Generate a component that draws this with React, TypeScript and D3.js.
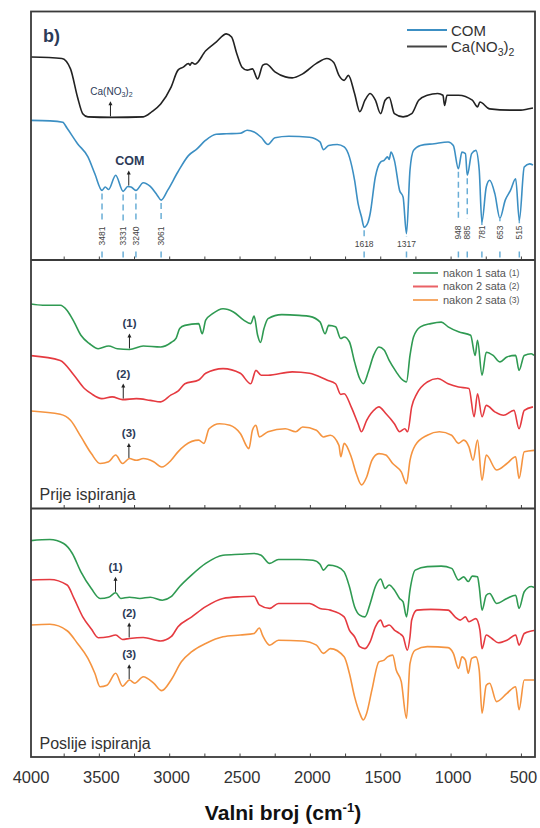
import React from 'react';
import * as d3 from 'd3';

type Pt = [number, number];

// Wavenumber (cm-1) vs. relative transmittance (%) within each panel
const caNitrate: Pt[] = [
  [4000, 81.7], [3766, 81.1], [3705, 76.9], [3655, 65.5], [3618, 58.9], [3581, 57.6], [3409, 57.4], [3188, 57.6],
  [3126, 59.7], [3064, 62.8], [2990, 69.6], [2941, 76.4], [2904, 77.6], [2867, 79.1], [2855, 78.4], [2843, 79.5],
  [2820, 78.8], [2744, 84.2], [2670, 87.7], [2597, 91.0], [2560, 89.7], [2523, 83.0], [2486, 77.6], [2449, 76.4],
  [2412, 76.9], [2375, 72.9], [2338, 78.4], [2314, 78.9], [2252, 75.7], [2178, 73.7], [2129, 73.3], [2055, 74.9],
  [1957, 79.1], [1883, 81.1], [1834, 79.5], [1797, 74.3], [1760, 72.3], [1730, 74.3], [1686, 67.0], [1649, 59.7],
  [1612, 64.3], [1575, 67.0], [1538, 64.3], [1501, 58.9], [1469, 64.3], [1440, 65.5], [1403, 58.9], [1341, 57.6],
  [1280, 58.9], [1230, 64.3], [1169, 66.3], [1095, 67.0], [1058, 66.3], [1046, 62.2], [1029, 66.3], [947, 66.3],
  [849, 64.3], [812, 61.6], [795, 63.6], [726, 60.8], [578, 60.3], [504, 60.3], [455, 60.8], [418, 61.2],
];

const com: Pt[] = [
  [4000, 56.2], [3850, 56.0], [3760, 55.4], [3729, 53.0], [3655, 46.8], [3581, 41.5], [3532, 34.7], [3481, 28.0],
  [3458, 29.4], [3434, 28.4], [3384, 34.1], [3331, 27.6], [3298, 29.6], [3275, 29.4], [3240, 28.0], [3188, 31.1],
  [3138, 29.6], [3089, 26.1], [3061, 24.1], [3015, 28.0], [2941, 35.5], [2867, 42.0], [2806, 44.7], [2744, 48.2],
  [2670, 50.6], [2597, 50.8], [2498, 51.0], [2449, 52.2], [2400, 51.5], [2350, 49.4], [2301, 46.5], [2252, 49.2],
  [2153, 49.8], [2006, 49.4], [1932, 47.5], [1907, 44.4], [1870, 46.1], [1809, 46.5], [1760, 45.5], [1723, 41.5],
  [1686, 32.1], [1661, 22.7], [1637, 17.4], [1618, 13.2], [1590, 15.2], [1575, 18.7], [1538, 33.5], [1501, 39.4],
  [1476, 40.1], [1452, 41.5], [1440, 40.5], [1427, 43.4], [1403, 40.1], [1366, 28.0], [1341, 25.3], [1317, 10.6],
  [1292, 36.2], [1267, 44.1], [1218, 46.1], [1120, 46.8], [1021, 47.5], [984, 46.1], [948, 36.7], [923, 43.4],
  [898, 42.8], [885, 34.1], [854, 42.8], [824, 44.1], [800, 36.2], [781, 15.3], [750, 29.4], [726, 32.1],
  [689, 26.7], [653, 16.8], [615, 24.1], [578, 28.0], [541, 32.7], [515, 16.0], [480, 37.4], [442, 38.7], [418, 38.2],
];

const before1h: Pt[] = [
  [4000, 82.4], [3902, 81.8], [3778, 81.8], [3729, 79.7], [3680, 75.1], [3631, 69.7], [3569, 66.3], [3508, 64.3],
  [3434, 65.4], [3372, 64.3], [3286, 64.0], [3188, 65.4], [3064, 65.0], [2990, 66.8], [2954, 68.6], [2929, 72.4],
  [2892, 73.7], [2794, 74.4], [2769, 70.3], [2744, 75.8], [2695, 78.4], [2621, 80.4], [2547, 79.1], [2474, 75.8],
  [2424, 74.4], [2400, 77.4], [2375, 69.7], [2355, 66.8], [2330, 72.4], [2301, 76.4], [2203, 78.0], [2080, 77.7],
  [2006, 77.3], [1932, 75.1], [1895, 70.3], [1870, 73.7], [1821, 73.1], [1784, 68.4], [1760, 69.0], [1723, 67.1],
  [1686, 59.0], [1649, 52.2], [1624, 50.2], [1588, 55.0], [1551, 61.6], [1513, 65.0], [1476, 63.8], [1440, 59.6],
  [1390, 55.0], [1354, 52.2], [1317, 50.9], [1292, 61.6], [1267, 69.0], [1218, 73.1], [1144, 74.4], [1070, 75.0],
  [1021, 73.1], [947, 71.1], [861, 69.7], [829, 61.6], [812, 67.7], [780, 53.6], [750, 62.9], [701, 61.6],
  [652, 59.0], [603, 61.0], [541, 61.6], [517, 55.6], [480, 61.6], [430, 62.3], [410, 61.6],
];

const before2h: Pt[] = [
  [4000, 61.6], [3778, 59.6], [3680, 53.6], [3606, 48.3], [3557, 46.2], [3483, 44.2], [3409, 44.9], [3335, 43.8],
  [3237, 44.2], [3138, 43.5], [3064, 42.9], [2990, 45.7], [2941, 47.2], [2892, 50.2], [2794, 51.7], [2744, 54.4],
  [2621, 56.3], [2498, 54.4], [2424, 50.2], [2387, 55.6], [2350, 53.6], [2301, 53.6], [2129, 55.0], [2006, 54.4],
  [1883, 51.7], [1821, 50.2], [1784, 45.9], [1760, 46.2], [1710, 40.9], [1661, 34.1], [1637, 30.9], [1600, 35.5],
  [1538, 40.1], [1513, 40.9], [1464, 38.2], [1403, 34.1], [1366, 30.9], [1329, 32.1], [1309, 30.9], [1280, 40.9],
  [1243, 46.2], [1169, 50.9], [1095, 52.3], [1021, 50.2], [947, 48.9], [873, 48.3], [836, 36.9], [812, 46.2],
  [780, 36.9], [750, 41.5], [689, 38.9], [627, 37.5], [553, 39.5], [517, 32.1], [480, 39.5], [418, 40.9],
];

const before3h: Pt[] = [
  [4000, 39.3], [3778, 37.9], [3705, 35.5], [3631, 28.9], [3557, 22.1], [3495, 18.1], [3434, 18.8], [3384, 21.5],
  [3335, 18.1], [3286, 20.1], [3237, 19.4], [3188, 20.1], [3114, 18.8], [3057, 16.7], [2990, 19.4], [2941, 22.8],
  [2892, 25.4], [2794, 27.5], [2757, 26.2], [2720, 32.1], [2646, 34.1], [2572, 33.5], [2498, 30.2], [2437, 24.1],
  [2412, 31.5], [2387, 33.5], [2363, 28.8], [2301, 30.9], [2178, 32.1], [2104, 30.9], [2055, 32.8], [1957, 31.5],
  [1907, 28.8], [1858, 29.5], [1797, 25.4], [1784, 20.8], [1760, 26.2], [1710, 20.8], [1674, 14.1], [1637, 9.5],
  [1600, 12.7], [1563, 19.4], [1513, 22.1], [1464, 21.5], [1415, 18.1], [1354, 14.7], [1317, 10.0], [1292, 19.4],
  [1255, 25.4], [1169, 29.5], [1083, 30.9], [996, 29.5], [947, 26.2], [910, 27.5], [873, 24.8], [844, 19.4],
  [812, 27.5], [780, 11.4], [750, 21.5], [677, 15.5], [603, 18.1], [541, 20.8], [517, 12.1], [480, 22.8], [410, 23.4],
];

const after1h: Pt[] = [
  [4000, 87.0], [3852, 87.5], [3754, 85.9], [3692, 81.9], [3631, 74.5], [3557, 67.8], [3495, 63.8], [3434, 64.3],
  [3384, 66.1], [3348, 63.8], [3286, 64.3], [3212, 63.8], [3138, 64.3], [3052, 63.1], [2990, 64.5], [2929, 68.6],
  [2843, 73.3], [2744, 77.9], [2621, 81.2], [2498, 81.6], [2400, 81.9], [2350, 81.2], [2289, 77.9], [2227, 79.5],
  [2080, 79.5], [1981, 79.2], [1932, 77.6], [1907, 75.2], [1870, 77.2], [1809, 76.6], [1760, 74.5], [1723, 68.6],
  [1686, 60.5], [1649, 57.1], [1612, 56.4], [1575, 61.8], [1538, 68.6], [1501, 71.6], [1469, 67.8], [1440, 69.2],
  [1403, 67.2], [1366, 63.8], [1341, 62.4], [1317, 56.4], [1292, 67.2], [1255, 75.2], [1169, 76.6], [1070, 76.8],
  [996, 75.9], [947, 71.2], [910, 72.5], [878, 70.6], [849, 72.8], [812, 72.5], [800, 68.6], [780, 59.1],
  [750, 65.1], [726, 65.8], [677, 61.8], [603, 63.8], [541, 65.1], [517, 59.8], [480, 66.5], [430, 68.6], [410, 68.2],
];

const after2h: Pt[] = [
  [4000, 71.2], [3852, 71.4], [3729, 69.2], [3680, 63.8], [3618, 56.4], [3557, 51.5], [3508, 48.0], [3434, 48.4],
  [3384, 49.1], [3335, 47.3], [3286, 47.7], [3188, 48.1], [3064, 46.7], [2990, 48.4], [2941, 52.4], [2843, 56.4],
  [2744, 60.5], [2621, 63.8], [2498, 64.5], [2400, 64.7], [2363, 61.2], [2289, 59.8], [2227, 61.8], [2006, 61.8],
  [1932, 59.8], [1858, 59.1], [1760, 56.4], [1723, 51.1], [1686, 48.4], [1649, 44.4], [1612, 43.6], [1575, 46.4],
  [1538, 52.4], [1501, 55.1], [1476, 52.4], [1440, 53.1], [1403, 51.1], [1366, 49.7], [1341, 48.4], [1311, 43.0],
  [1292, 48.4], [1280, 55.1], [1243, 59.1], [1144, 59.4], [1021, 59.1], [972, 56.4], [935, 55.1], [898, 56.4],
  [873, 54.4], [824, 55.7], [795, 51.1], [780, 43.6], [750, 49.1], [710, 47.7], [665, 46.0], [603, 47.0],
  [541, 49.1], [517, 45.0], [480, 49.7], [430, 50.7], [410, 50.9],
];

const after3h: Pt[] = [
  [4000, 53.1], [3852, 53.4], [3729, 50.8], [3655, 45.7], [3581, 39.7], [3532, 33.7], [3495, 28.3], [3446, 28.9],
  [3384, 33.7], [3335, 28.5], [3286, 31.0], [3249, 29.7], [3188, 32.3], [3114, 29.7], [3057, 26.7], [2990, 31.0],
  [2917, 38.3], [2843, 42.4], [2744, 45.7], [2621, 48.4], [2498, 49.1], [2400, 49.7], [2363, 51.9], [2338, 48.7],
  [2289, 45.0], [2227, 47.0], [2055, 46.7], [1957, 45.0], [1907, 41.7], [1858, 43.6], [1760, 40.3], [1723, 33.7],
  [1686, 24.3], [1649, 17.6], [1624, 14.9], [1600, 17.6], [1563, 26.9], [1513, 38.3], [1476, 39.0], [1452, 40.3],
  [1415, 41.0], [1390, 35.0], [1354, 30.3], [1317, 15.6], [1292, 37.6], [1255, 43.0], [1169, 44.4], [1021, 44.0],
  [984, 41.7], [947, 35.6], [923, 40.3], [898, 39.0], [878, 33.7], [854, 39.7], [824, 40.3], [800, 35.0],
  [780, 17.6], [750, 28.9], [726, 29.7], [677, 22.3], [603, 25.6], [541, 28.3], [517, 19.0], [480, 31.0], [410, 31.0],
];

const xTickValues = [4000, 3500, 3000, 2500, 2000, 1500, 1000, 500];
const minorTickValues = [3750, 3500, 3250, 3000, 2750, 2500, 2250, 2000, 1750, 1500, 1250, 1000, 750, 500];
const comPeaks = [3481, 3331, 3240, 3061, 1618, 1317, 948, 885, 781, 653, 515];
const horizontalPeakLabels = [1618, 1317];

const legendTop = ['COM', 'Ca(NO3)2'];
const legendMid = ['nakon 1 sata', 'nakon 2 sata', 'nakon 2 sata'];
const legendMidTags = ['(1)', '(2)', '(3)'];
const panelTitles = ['', 'Prije ispiranja', 'Poslije ispiranja'];

const COLORS = {
  ca: '#222222',
  com: '#3c8fc3',
  green: '#2f9a52',
  red: '#e53a40',
  orange: '#f59440',
};

const FRAME = { left: 31, right: 535, top: 11.5, bottom: 757 };
const PANEL_H = (FRAME.bottom - FRAME.top) / 3;

const x = d3.scaleLinear().domain([4000, 400]).range([29, 535.5]);
const yScales = [0, 1, 2].map((i) =>
  d3.scaleLinear().domain([0, 100]).range([FRAME.top + (i + 1) * PANEL_H, FRAME.top + i * PANEL_H])
);

const series = [
  { key: 'ca', panel: 0, data: caNitrate, color: COLORS.ca },
  { key: 'com', panel: 0, data: com, color: COLORS.com },
  { key: 'b1', panel: 1, data: before1h, color: COLORS.green },
  { key: 'b2', panel: 1, data: before2h, color: COLORS.red },
  { key: 'b3', panel: 1, data: before3h, color: COLORS.orange },
  { key: 'a1', panel: 2, data: after1h, color: COLORS.green },
  { key: 'a2', panel: 2, data: after2h, color: COLORS.red },
  { key: 'a3', panel: 2, data: after3h, color: COLORS.orange },
];

const annotations = [
  { panel: 0, data: caNitrate, wn: 3421, label: 'ca' },
  { panel: 0, data: com, wn: 3291, label: 'COM' },
  { panel: 1, data: before1h, wn: 3286, label: '(1)' },
  { panel: 1, data: before2h, wn: 3330, label: '(2)' },
  { panel: 1, data: before3h, wn: 3290, label: '(3)' },
  { panel: 2, data: after1h, wn: 3385, label: '(1)' },
  { panel: 2, data: after2h, wn: 3288, label: '(2)' },
  { panel: 2, data: after3h, wn: 3288, label: '(3)' },
];

function valueAt(data: Pt[], wn: number): number {
  for (let i = 0; i < data.length - 1; i++) {
    const [w0, v0] = data[i];
    const [w1, v1] = data[i + 1];
    if (wn <= w0 && wn >= w1) {
      const t = (w0 - wn) / (w0 - w1);
      return v0 + t * (v1 - v0);
    }
  }
  return data[data.length - 1][1];
}

const FONT = "'Liberation Sans', Arial, Helvetica, sans-serif";
const NAVY = '#2c3b58';

export default function App() {
  const makeLine = (panel: number) =>
    d3
      .line<Pt>()
      .x((d) => x(d[0]))
      .y((d) => yScales[panel](d[1]))
      .curve(d3.curveMonotoneX);

  const panelTop = (i: number) => FRAME.top + i * PANEL_H;
  const panelBottom = (i: number) => FRAME.top + (i + 1) * PANEL_H;

  return (
    <svg
      width={540}
      height={828}
      viewBox="0 0 540 828"
      style={{ position: 'absolute', left: 0, top: 0, background: '#fff' }}
      fontFamily={FONT}
    >
      <rect x={0} y={0} width={540} height={828} fill="#fff" />
      <defs>
        {[0, 1, 2].map((i) => (
          <clipPath id={`clip${i}`} key={i}>
            <rect x={FRAME.left} y={panelTop(i)} width={FRAME.right - FRAME.left} height={PANEL_H} />
          </clipPath>
        ))}
      </defs>

      {/* COM peak dashed markers */}
      {comPeaks.map((wn) => {
        const px = x(wn);
        const yStart = yScales[0](valueAt(com, wn)) + 3;
        const horiz = horizontalPeakLabels.includes(wn);
        const labelC = horiz ? 243.5 : wn > 2000 ? 236 : 232.5;
        const gapTop = horiz ? 237 : wn > 2000 ? 222 : 218.5;
        const gapBottom = 251.5;
        const bottom = panelBottom(0);
        return (
          <g key={wn}>
            <line x1={px} x2={px} y1={yStart} y2={gapTop} stroke="#6aaed6" strokeWidth={1.5} strokeDasharray="6,4" />
            <line x1={px} x2={px} y1={gapBottom} y2={bottom} stroke="#6aaed6" strokeWidth={1.5} strokeDasharray="6,3" />
            {horiz ? (
              <text x={px} y={labelC} fontSize={8.5} fill="#444" textAnchor="middle" dominantBaseline="central">
                {wn}
              </text>
            ) : (
              <text
                x={px}
                y={labelC}
                fontSize={8.5}
                fill="#444"
                textAnchor="middle"
                dominantBaseline="central"
                transform={`rotate(-90, ${px}, ${labelC})`}
              >
                {wn}
              </text>
            )}
          </g>
        );
      })}

      {/* spectra */}
      {series.map((s) => (
        <path
          key={s.key}
          d={makeLine(s.panel)(s.data) || ''}
          fill="none"
          stroke={s.color}
          strokeWidth={1.6}
          strokeLinejoin="round"
          clipPath={`url(#clip${s.panel})`}
        />
      ))}

      {/* arrows + labels */}
      {annotations.map((a, i) => {
        const px = x(a.wn);
        const y0 = yScales[a.panel](valueAt(a.data, a.wn)) - 1;
        const yTop = y0 - 15;
        const lc = yTop - 10;
        return (
          <g key={i}>
            <line x1={px} x2={px} y1={y0} y2={yTop + 3} stroke="#222" strokeWidth={1} />
            <path d={`M${px - 2},${yTop + 4} L${px + 2},${yTop + 4} L${px},${yTop} Z`} fill="#222" />
            {a.label === 'ca' ? (
              <text x={px + 1} y={lc + 3.5} fontSize={10} fill={NAVY} textAnchor="middle">
                Ca(NO<tspan dy={2.5} fontSize={7}>3</tspan>
                <tspan dy={-2.5}>)</tspan>
                <tspan dy={2.5} fontSize={7}>2</tspan>
              </text>
            ) : (
              <text
                x={px + (a.label === 'COM' ? 1 : 0)}
                y={lc + 4}
                fontSize={a.label === 'COM' ? 12.5 : 11.5}
                fontWeight="bold"
                fill={NAVY}
                textAnchor="middle"
              >
                {a.label}
              </text>
            )}
          </g>
        );
      })}

      {/* minor ticks at panel bottoms */}
      {[0, 1, 2].map((i) =>
        minorTickValues.map((v) => (
          <line
            key={`t${i}-${v}`}
            x1={x(v)}
            x2={x(v)}
            y1={panelBottom(i)}
            y2={panelBottom(i) - 3.5}
            stroke="#444"
            strokeWidth={1}
          />
        ))
      )}

      {/* frames */}
      <rect
        x={FRAME.left}
        y={FRAME.top}
        width={FRAME.right - FRAME.left}
        height={FRAME.bottom - FRAME.top}
        fill="none"
        stroke="#3a3a3a"
        strokeWidth={1.8}
      />
      {[1, 2].map((i) => (
        <line
          key={`div${i}`}
          x1={FRAME.left}
          x2={FRAME.right}
          y1={panelTop(i)}
          y2={panelTop(i)}
          stroke="#3a3a3a"
          strokeWidth={2}
        />
      ))}

      {/* panel label b) */}
      <text x={43} y={41.5} fontSize={18} fontWeight="bold" fill={NAVY}>
        b)
      </text>

      {/* top legend */}
      <line x1={407} x2={447} y1={30} y2={30} stroke={COLORS.com} strokeWidth={2} />
      <text x={451} y={35.5} fontSize={15} fill="#333">
        {legendTop[0]}
      </text>
      <line x1={407} x2={447} y1={46.5} y2={46.5} stroke="#444" strokeWidth={2} />
      <text x={451} y={52} fontSize={15} fill="#333">
        Ca(NO<tspan dy={3.5} fontSize={10.5}>3</tspan>
        <tspan dy={-3.5}>)</tspan>
        <tspan dy={3.5} fontSize={10.5}>2</tspan>
      </text>

      {/* middle legend */}
      {legendMid.map((t, i) => {
        const cy = 273 + i * 13.5;
        const col = [COLORS.green, COLORS.red, COLORS.orange][i];
        return (
          <g key={`lm${i}`}>
            <line x1={413} x2={438} y1={cy} y2={cy} stroke={col} strokeWidth={2} opacity={0.8} />
            <text x={443} y={cy + 3.8} fontSize={11} fill="#555">
              {t}
              <tspan fontSize={8.5} dx={3} dy={-1}>
                {legendMidTags[i]}
              </tspan>
            </text>
          </g>
        );
      })}

      {/* panel titles */}
      <text x={39.5} y={500} fontSize={16} fill="#333">
        {panelTitles[1]}
      </text>
      <text x={39.5} y={749} fontSize={16} fill="#333">
        {panelTitles[2]}
      </text>

      {/* x tick labels */}
      {xTickValues.map((v) => (
        <text key={`xl${v}`} x={x(v) + 2} y={782.5} fontSize={16.5} fill="#333" textAnchor="middle">
          {v}
        </text>
      ))}

      {/* axis title */}
      <text x={283} y={820} fontSize={21} fontWeight="bold" fill="#111" textAnchor="middle">
        Valni broj (cm
        <tspan fontSize={13} dy={-8}>
          -1
        </tspan>
        <tspan dy={8}>)</tspan>
      </text>
    </svg>
  );
}
